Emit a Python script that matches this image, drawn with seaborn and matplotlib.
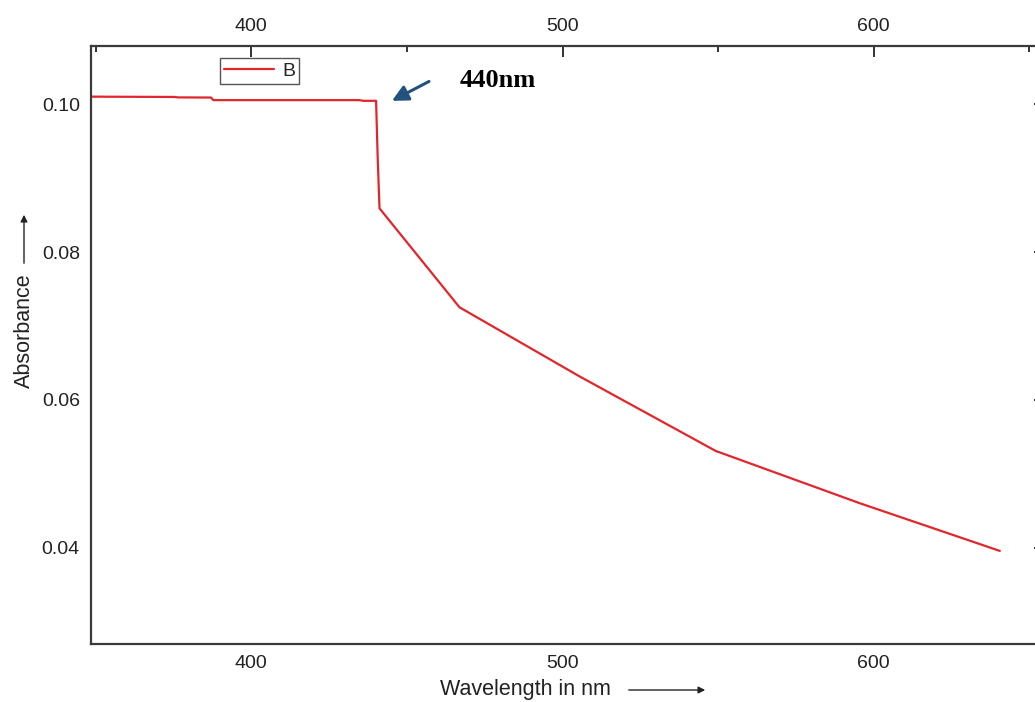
import numpy as np
import pandas as pd
import matplotlib.pyplot as plt
import seaborn as sns

# ---------------------------------------------------------
# data (curve B)
# ---------------------------------------------------------
wavelength = [348.6, 375.2, 376.5, 387.1, 387.8, 434.7, 436.0, 440.1,
              440.6, 441.2, 466.9, 505.5, 549.2, 595.5, 640.5]
absorbance = [0.10101, 0.10097, 0.10091, 0.10089, 0.10054, 0.10054, 0.10045, 0.10045,
              0.09300, 0.08591, 0.07253, 0.06318, 0.05311, 0.04604, 0.03959]
series_name = 'B'

x_major = [400, 500, 600]
x_minor = [350, 450, 550, 650]
y_major = [0.04, 0.06, 0.08, 0.10]
y_minor = [0.03, 0.05, 0.07, 0.09]

peak_label = '440nm'
arrow_head = (444.4, 0.10027)
arrow_tail = (457.9, 0.10324)

# ---------------------------------------------------------
# style
# ---------------------------------------------------------
sns.set_style('white')
plt.rcParams['font.family'] = ['Liberation Sans', 'DejaVu Sans']

fig = plt.figure(figsize=(10.35, 7.02), dpi=100)
ax = fig.add_axes([0.0879, 0.0826, 0.9217, 0.8523])

df = pd.DataFrame({'Wavelength': wavelength, 'Absorbance': absorbance})
sns.lineplot(data=df, x='Wavelength', y='Absorbance', sort=False,
             color='#e3262b', linewidth=1.6, label=series_name, ax=ax)

ax.set_xlim(348.5, 655)
ax.set_ylim(0.027, 0.1079)
ax.set_xticks(x_major)
ax.set_xticks(x_minor, minor=True)
ax.set_yticks(y_major)
ax.set_yticks(y_minor, minor=True)
ax.set_yticklabels([f'{v:.2f}' for v in y_major])

ax.tick_params(axis='both', which='both', direction='in', top=True, right=True,
               width=1.4, color='#333333', labelsize=14, labelcolor='#222222')
ax.tick_params(which='major', length=8)
ax.tick_params(which='minor', length=4)
ax.tick_params(axis='x', labeltop=True, pad=8)
ax.tick_params(axis='y', pad=8)

for sp in ax.spines.values():
    sp.set_linewidth(1.6)
    sp.set_color('#3a3a3a')

ax.set_xlabel('')
ax.set_ylabel('')

# axis labels with arrows
fig.text(440 / 1035, 1 - 690 / 702, 'Wavelength in nm', fontsize=15.5,
         va='center', ha='left', color='#222222')
ax.annotate('', xy=(708 / 1035, 1 - 690 / 702), xytext=(626 / 1035, 1 - 690 / 702),
            xycoords='figure fraction', textcoords='figure fraction',
            arrowprops=dict(arrowstyle='-|>', color='#222222', lw=1, mutation_scale=10))

fig.text(24 / 1035, 1 - 331 / 702, 'Absorbance', fontsize=15.5, rotation=90,
         va='center', ha='center', color='#222222')
ax.annotate('', xy=(24 / 1035, 1 - 212 / 702), xytext=(24 / 1035, 1 - 266 / 702),
            xycoords='figure fraction', textcoords='figure fraction',
            arrowprops=dict(arrowstyle='-|>', color='#222222', lw=1, mutation_scale=10))

# peak annotation
ax.annotate('', xy=arrow_head, xytext=arrow_tail,
            arrowprops=dict(arrowstyle='-|>', color='#24527f', lw=2.2, mutation_scale=24))
ax.text(466.9, 0.10324, peak_label, fontsize=19, fontweight='bold',
        family=['Liberation Serif', 'DejaVu Serif'], va='center', ha='left', color='black')

leg = ax.legend(loc='upper left', bbox_to_anchor=(0.135, 0.979), frameon=True,
                fancybox=False, edgecolor='#555555', fontsize=14, handlelength=2.6,
                borderpad=0.2, borderaxespad=0, handletextpad=0.4, framealpha=1)
leg.get_frame().set_linewidth(1.0)

plt.savefig('out.png', dpi=100)
